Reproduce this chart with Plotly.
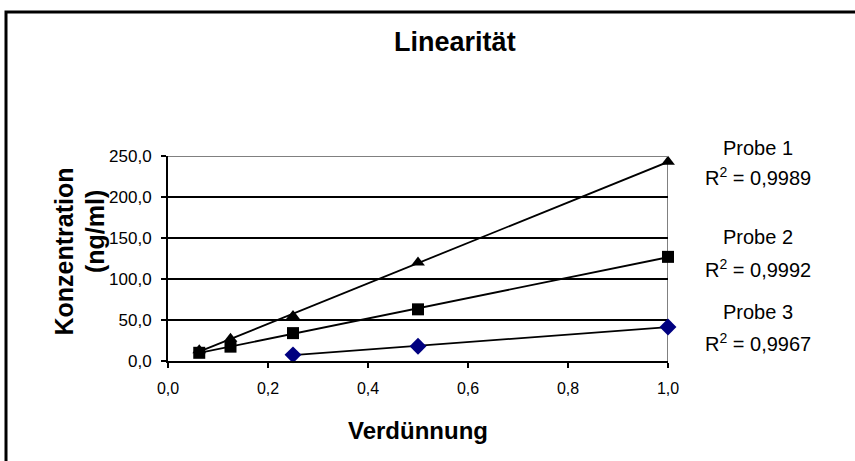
import numpy as np
import plotly.graph_objects as go

# Data
x_p12 = [0.0625, 0.125, 0.25, 0.5, 1.0]
probe1 = [13.0, 27.0, 55.0, 120.0, 243.0]
probe2 = [10.0, 17.5, 34.0, 63.0, 127.0]
x_p3 = [0.25, 0.5, 1.0]
probe3 = [7.5, 18.0, 41.5]
r2_labels = ["0,9989", "0,9992", "0,9967"]
names = ["Probe 1", "Probe 2", "Probe 3"]
x_ticks = [0.0, 0.2, 0.4, 0.6, 0.8, 1.0]
y_ticks = [0, 50, 100, 150, 200, 250]

FONT = "Liberation Sans, Arial, sans-serif"

fig = go.Figure()

series = [
    (x_p12, probe1, "triangle-up", "#000000", 12),
    (x_p12, probe2, "square", "#000000", 12),
    (x_p3, probe3, "diamond", "#000080", 13),
]

for xs, ys, sym, col, sz in series:
    m, b = np.polyfit(xs, ys, 1)
    xl = [min(xs), max(xs)]
    yl = [m * v + b for v in xl]
    fig.add_trace(go.Scatter(x=xl, y=yl, mode="lines",
                             line=dict(color="black", width=1.8),
                             showlegend=False, hoverinfo="skip"))
for xs, ys, sym, col, sz in series:
    fig.add_trace(go.Scatter(x=xs, y=ys, mode="markers",
                             marker=dict(symbol=sym, color=col, size=sz,
                                         line=dict(width=0)),
                             showlegend=False, cliponaxis=False))

fig.update_layout(
    width=855, height=461,
    margin=dict(l=168, r=187, t=156, b=100),
    paper_bgcolor="white", plot_bgcolor="white",
    separators=",.",
    font=dict(family=FONT, color="black"),
    title=dict(text="<b>Linearität</b>", x=0.532, y=0.909,
               xanchor="center", yanchor="middle",
               font=dict(size=27, family=FONT, color="black")),
    xaxis=dict(range=[0, 1.0], tickvals=x_ticks, tickformat=".1f",
               showgrid=False, zeroline=False,
               showline=True, linecolor="black", linewidth=2,
               ticks="outside", ticklen=5, tickwidth=1.5, tickcolor="black",
               ticklabelstandoff=7,
               tickfont=dict(size=16, family=FONT, color="black")),
    yaxis=dict(range=[0, 250], tickvals=y_ticks, tickformat=".1f",
               showgrid=True, gridcolor="black", gridwidth=2,
               zeroline=False,
               showline=True, linecolor="black", linewidth=2,
               ticks="outside", ticklen=5, tickwidth=1.5, tickcolor="black",
               ticklabelstandoff=6,
               tickfont=dict(size=17, family=FONT, color="black")),
)

# gray top and right frame of plot area
fig.add_shape(type="line", xref="x", yref="y", x0=0, x1=1.0, y0=250, y1=250,
              line=dict(color="#808080", width=2), layer="above")
fig.add_shape(type="line", xref="x", yref="y", x0=1.0, x1=1.0, y0=0, y1=250,
              line=dict(color="#808080", width=2), layer="below")

# outer chart border
fig.add_shape(type="rect", xref="paper", yref="paper",
              x0=-0.324, x1=1.40, y0=-0.60, y1=1.702,
              line=dict(color="black", width=3), fillcolor="rgba(0,0,0,0)")

# axis titles
fig.add_annotation(text="<b>Konzentration</b>", xref="paper", yref="paper",
                   x=-0.208, y=0.534, textangle=-90, showarrow=False,
                   xanchor="center", yanchor="middle",
                   font=dict(size=25, family=FONT, color="black"))
fig.add_annotation(text="<b>(ng/ml)</b>", xref="paper", yref="paper",
                   x=-0.146, y=0.629, textangle=-90, showarrow=False,
                   xanchor="center", yanchor="middle",
                   font=dict(size=25, family=FONT, color="black"))
fig.add_annotation(text="<b>Verdünnung</b>", xref="paper", yref="paper",
                   x=0.5, y=-0.337, showarrow=False,
                   xanchor="center", yanchor="middle",
                   font=dict(size=24, family=FONT, color="black"))

# series labels with R²
name_y = [1.039, 0.607, 0.240]
r2_y = [0.898, 0.449, 0.088]
for n, r, ny, ry in zip(names, r2_labels, name_y, r2_y):
    fig.add_annotation(text=n, xref="paper", yref="paper", x=1.18, y=ny,
                       showarrow=False, xanchor="center", yanchor="middle",
                       font=dict(size=20, family=FONT, color="black"))
    fig.add_annotation(text="R<sup>2</sup> = " + r, xref="paper", yref="paper",
                       x=1.18, y=ry, showarrow=False,
                       xanchor="center", yanchor="middle",
                       font=dict(size=20, family=FONT, color="black"))

fig.write_html("out.html", config={"displayModeBar": False},
               post_script="document.body.style.margin='0px';")
